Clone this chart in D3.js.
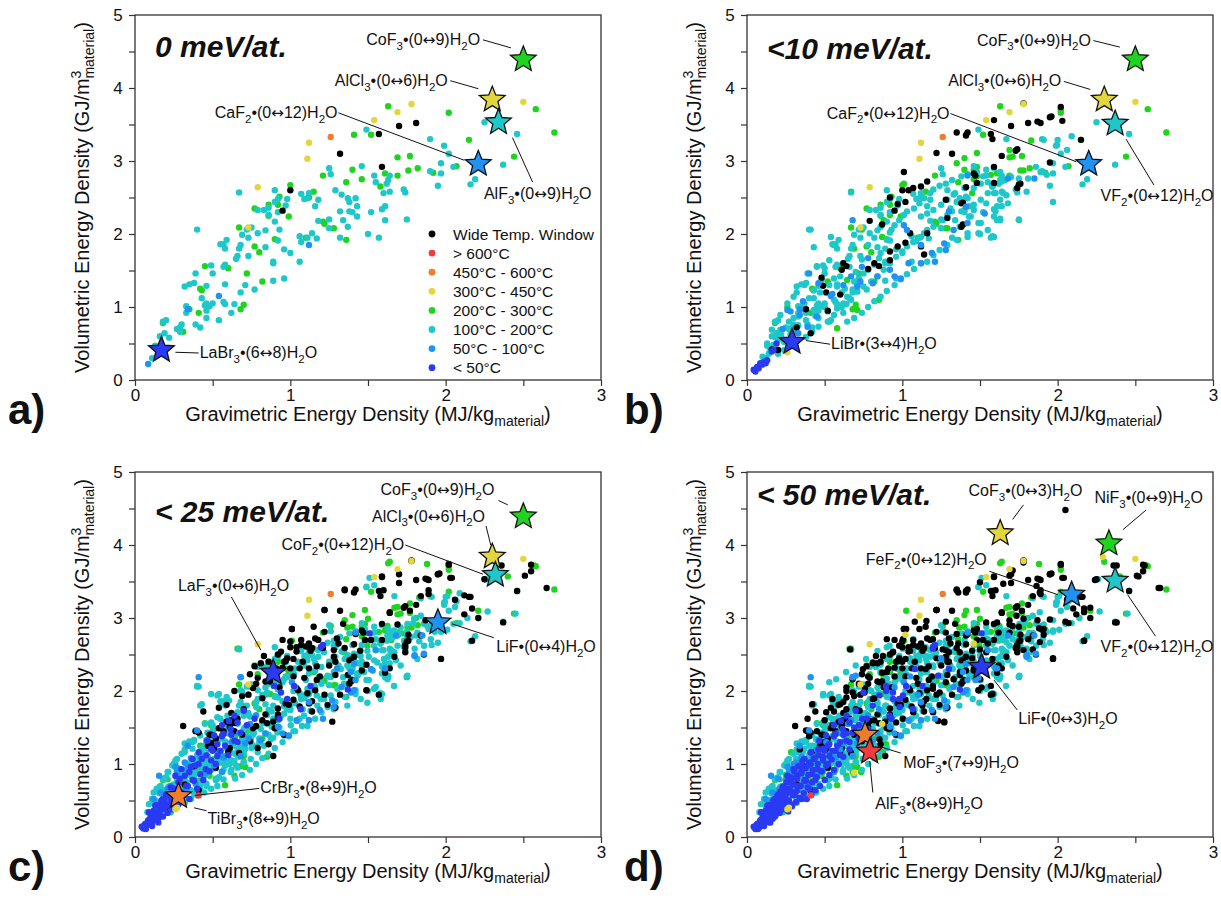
<!DOCTYPE html>
<html>
<head>
<meta charset="utf-8">
<script src="https://cdn.jsdelivr.net/npm/d3@7"></script>
<style>
  body { margin: 0; background: #fff; }
  text { font-family: "Liberation Sans", Arial, sans-serif; fill: #111; }
</style>
</head>
<body>
<svg id="chart" width="1221" height="905"></svg>
<script>
// legend categories (index is used by every data array below)
const categories = ["Wide Temp. Window", "> 600°C", "450°C - 600°C", "300°C - 450°C",
  "200°C - 300°C", "100°C - 200°C", "50°C - 100°C", "< 50°C"];
const catColors = ["#000000", "#f03c3c", "#ef7d2c", "#e2d63a", "#1fd41f", "#1ec7c9", "#1e93f3", "#2a3af4"];
const drawOrder = [4, 5, 0, 6, 7, 3, 2, 1];

const xTicks = [0, 0.5, 1, 1.5, 2, 2.5, 3];
const yTicks = [0, 0.5, 1, 1.5, 2, 2.5, 3, 3.5, 4, 4.5, 5];

// points stable at 0 meV/at. -- [black, red, orange, yellow, green, cyan, lightblue, blue], x,y pairs
const tier0 = [
  [1.81,3.52, 1.70,3.48, 1.57,3.37, 1.32,3.10, 1.59,2.92, 1.00,2.60, 0.95,2.32],
  [],
  [1.26,3.33],
  [2.50,3.81, 1.78,3.78, 1.69,3.67, 1.54,3.56, 1.12,3.25, 1.11,3.03, 0.79,2.64, 0.73,2.09],
  [2.58,3.71, 2.70,3.39, 2.15,3.29, 2.44,3.06, 2.02,3.66, 1.63,3.75, 1.52,3.36, 1.41,3.36, 1.69,3.05, 1.77,3.07,
   1.82,2.90, 1.76,2.87, 2.07,2.93, 1.92,2.84, 1.40,2.88, 1.21,2.80, 1.46,2.75, 1.61,2.83, 1.69,2.80, 1.58,2.65,
   1.36,2.71, 1.28,2.08, 1.21,2.17, 1.22,2.14, 1.36,1.92, 1.15,2.58, 1.12,2.50, 1.10,1.95, 1.00,2.67, 0.93,2.51,
   0.92,2.40, 0.99,2.24, 0.90,1.93, 0.77,2.35, 0.86,2.40, 0.86,2.25, 0.67,2.09, 0.77,1.83, 0.80,1.75, 0.60,1.53,
   0.45,1.56, 0.72,1.46, 0.82,1.35, 0.42,1.25, 0.43,1.23, 0.70,1.03, 0.68,0.97, 0.35,0.97, 0.41,0.92, 0.31,0.66, 0.18,0.78],
  [2.25,3.53, 2.46,3.37, 2.37,2.95, 1.49,3.43, 1.90,3.30, 1.99,3.21, 2.02,3.10, 1.97,2.97, 2.05,2.92, 1.90,2.86,
   1.97,2.83, 2.19,2.75, 2.16,2.68, 1.95,2.66, 1.46,2.93, 1.25,2.90, 1.26,2.82, 1.54,2.80, 1.64,2.80, 1.63,2.74,
   1.62,2.69, 1.55,2.71, 1.64,2.58, 1.60,2.56, 1.73,2.61, 1.74,2.57, 1.61,2.38, 1.59,2.34, 1.52,2.30, 1.61,2.19,
   1.75,2.20, 1.50,2.00, 1.57,1.95, 1.29,2.60, 1.33,2.54, 1.37,2.49, 1.42,2.49, 1.38,2.44, 1.43,2.38, 1.32,2.31,
   1.38,2.31, 1.40,2.30, 1.43,2.24, 1.34,2.19, 1.37,2.10, 1.25,2.20, 1.25,2.08, 1.18,2.18, 1.32,1.95, 1.18,2.47,
   1.16,2.38, 1.12,2.56, 1.07,2.55, 1.11,2.49, 1.09,2.48, 1.14,2.01, 1.17,1.94, 1.11,1.95, 1.06,1.97, 1.07,1.89,
   1.06,1.62, 0.90,2.60, 0.92,2.48, 0.98,2.48, 0.90,2.44, 0.97,2.39, 0.92,2.30, 0.90,2.17, 0.93,2.06, 0.92,1.91,
   0.96,1.79, 1.00,1.74, 0.89,1.60, 0.89,1.62, 0.96,1.39, 0.79,2.33, 0.83,2.33, 0.86,2.36, 0.86,2.26, 0.67,2.57,
   0.79,2.01, 0.84,2.05, 0.69,1.99, 0.75,2.09, 0.72,2.06, 0.73,1.95, 0.68,1.85, 0.67,1.80, 0.84,1.82, 0.73,1.70,
   0.66,1.70, 0.65,1.66, 0.59,1.92, 0.57,1.86, 0.55,1.86, 0.58,1.80, 0.58,1.58, 0.57,1.55, 0.49,1.57, 0.50,1.46,
   0.39,1.46, 0.40,2.06, 0.71,1.30, 0.77,1.24, 0.89,1.36, 0.68,1.20, 0.58,1.31, 0.32,1.28, 0.35,1.31, 0.38,1.33,
   0.46,1.29, 0.43,1.12, 0.46,1.05, 0.50,1.05, 0.45,1.02, 0.48,1.01, 0.57,1.07, 0.58,1.04, 0.64,1.04, 0.62,0.92,
   0.54,0.82, 0.46,0.95, 0.46,0.85, 0.33,1.01, 0.33,0.92, 0.39,0.76, 0.42,0.72, 0.30,0.76, 0.29,0.72, 0.27,0.70,
   0.29,0.66, 0.20,0.82, 0.18,0.80, 0.22,0.58, 0.19,0.64, 0.16,0.60, 0.13,0.47, 0.11,0.30],
  [1.12,1.85, 0.54,1.15, 0.34,0.97, 0.085,0.22],
  []
];

// extra points stable below 10 meV/at.
const tier10 = [
  [1.78,3.79, 2.02,3.74, 2.03,3.55, 1.95,3.60, 1.89,3.52, 1.59,3.56, 1.58,3.30, 1.41,3.35, 1.35,3.39, 2.15,3.29,
   1.95,2.98, 1.73,3.14, 1.64,3.07, 1.22,3.11, 1.48,2.70, 1.41,2.64, 1.75,2.68, 1.74,2.63, 1.28,2.47, 1.38,2.42,
   1.38,2.10, 1.29,2.22, 1.01,2.85, 1.04,2.60, 1.07,2.63, 1.12,2.65, 1.16,2.72, 1.02,2.44, 0.97,2.41, 0.92,2.50,
   0.79,2.18, 0.87,2.13, 1.02,1.88, 0.97,1.83, 0.92,1.76, 0.92,1.64, 0.78,1.52, 0.85,1.56, 0.82,1.60, 0.62,1.60,
   0.64,1.56, 0.61,1.51, 0.48,1.40, 0.49,1.29, 0.51,1.20, 0.60,1.17, 0.52,0.95, 0.38,0.97, 0.32,0.72, 0.41,0.64,
   0.20,0.41, 0.16,0.42, 1.14,1.72, 1.12,1.83, 1.16,2.01, 1.05,2.01, 1.46,2.83, 1.59,2.70, 1.96,3.61, 1.87,3.54,
   1.42,3.39, 1.74,3.16, 1.47,2.80, 1.39,2.43, 1.39,2.13, 1.76,2.69],
  [],
  [],
  [0.26,0.38],
  [0.67,2.58, 0.74,2.06, 0.87,1.96, 1.01,2.69, 1.35,2.97, 1.48,2.79, 1.29,2.08, 0.52,1.35, 0.645,1.37, 0.71,0.96,
   0.26,1.00, 0.85,1.10, 0.53,0.80, 0.58,0.71, 0.69,1.80, 0.88,2.19, 0.92,2.26, 1.48,2.92, 1.83,3.28, 1.78,2.87,
   1.71,3.06, 1.69,3.15, 1.46,2.88, 1.40,3.04, 1.57,2.81, 1.45,2.56, 1.75,2.19, 1.48,3.11, 2.02,3.70],
  [0.41,2.06, 0.43,1.82, 0.54,1.96, 0.56,1.85, 0.53,1.64, 0.50,1.53, 0.45,1.55, 0.56,1.39, 0.58,1.28, 0.61,1.20,
   0.645,1.14, 0.48,1.37, 0.43,1.23, 0.37,1.30, 0.32,1.20, 0.30,1.14, 0.37,1.05, 0.26,1.05, 0.215,0.89, 0.19,0.80,
   0.16,0.69, 0.18,0.59, 0.13,0.50, 0.15,0.41, 0.10,0.32, 0.215,0.69, 0.27,0.80, 0.33,0.87, 0.38,0.92, 0.43,0.96,
   0.46,1.03, 0.52,0.94, 0.58,0.98, 0.62,1.05, 0.66,1.12, 0.68,1.24, 0.69,1.35, 0.72,1.39, 0.75,1.46, 0.78,1.51,
   0.82,1.58, 0.85,1.67, 0.86,1.74, 0.89,1.80, 0.90,1.92, 0.92,2.02, 0.95,2.12, 0.98,2.19, 1.01,2.26, 1.03,2.31,
   1.075,2.35, 1.11,2.42, 1.14,2.49, 1.18,2.56, 1.20,2.61, 1.24,2.66, 1.28,2.69, 1.32,2.74, 1.38,2.79, 1.42,2.82,
   1.48,2.85, 1.54,2.88, 1.59,2.90, 1.63,2.85, 1.66,2.74, 1.505,2.69, 1.46,2.63, 1.41,2.51, 1.35,2.44, 1.31,2.35,
   1.29,2.26, 1.26,2.19, 1.20,2.10, 1.16,2.055, 1.12,1.96, 1.09,1.90, 1.03,1.83, 1.00,1.76, 0.96,1.69, 0.92,1.60,
   0.88,1.51, 0.84,1.42, 0.80,1.35, 0.75,1.28, 0.71,1.21, 0.67,1.10, 0.61,1.00, 0.56,0.89, 0.52,0.80, 0.46,0.73,
   0.42,0.66, 0.38,0.59, 0.32,0.53, 0.28,0.46, 0.24,0.41, 0.20,0.36, 1.40,2.33, 1.44,2.24, 1.505,2.15, 1.55,2.055,
   1.59,1.96, 1.49,2.01, 1.42,1.96, 1.35,1.92, 1.29,1.85, 1.24,1.78, 1.20,1.71, 1.16,1.62, 1.12,1.60, 1.075,1.52,
   1.03,1.45, 0.99,1.38, 0.95,1.30, 0.90,1.22, 0.86,1.14, 0.82,1.08, 0.78,1.00, 0.74,0.92, 0.69,0.85, 0.645,0.80,
   1.12,2.24, 1.16,2.28, 1.20,2.33, 1.25,2.40, 1.29,2.47, 1.34,2.56, 1.40,2.63, 1.52,2.79, 1.58,2.67, 1.55,2.56,
   1.505,2.47, 1.46,2.40, 1.60,2.31, 1.63,2.19, 1.67,2.53, 1.64,2.38, 1.67,3.30, 1.91,3.29, 2.00,3.29, 1.995,3.22,
   2.09,3.34, 2.06,3.15, 1.86,2.92, 1.89,2.85, 1.93,2.81, 1.81,2.76, 1.70,2.78, 1.64,2.72, 1.58,2.65, 1.59,2.56,
   1.65,2.56, 1.63,2.47, 1.54,2.42, 1.46,2.33, 1.49,2.15, 1.59,2.24, 1.63,2.21, 1.68,2.42, 1.80,2.58, 1.75,2.76,
   1.97,2.44, 1.58,1.97, 1.42,2.01, 0.12,0.30, 0.14,0.36, 0.17,0.48, 0.20,0.55, 0.22,0.62, 0.24,0.52, 0.25,0.72,
   0.28,0.62, 0.30,0.85, 0.33,0.75, 0.35,1.00, 0.38,0.82, 0.40,1.12, 0.44,0.88, 0.47,1.20, 0.50,1.00, 0.53,1.30,
   0.56,1.10, 0.60,1.42, 0.63,1.25, 0.66,1.55, 0.70,1.48, 0.74,1.65, 0.78,1.85, 0.82,1.95, 0.86,2.10],
  [0.68,2.19, 0.40,1.46, 0.46,1.325, 0.67,1.42, 0.71,1.28, 0.73,1.35, 0.81,1.325, 0.84,1.42, 1.01,2.12, 1.03,2.055,
   1.04,1.60, 1.12,1.60, 1.19,1.74, 1.21,1.62, 1.28,1.78, 1.30,2.31, 1.33,2.055, 1.41,2.375, 1.42,2.15, 1.27,1.87,
   0.95,1.42, 0.99,1.39, 0.92,1.51, 0.26,0.96, 0.28,0.94, 0.34,0.89, 0.39,0.73, 0.45,0.87, 0.78,1.67, 0.74,1.55,
   0.33,0.64, 1.42,2.80, 1.53,2.28, 1.68,2.76, 1.85,2.76, 0.23,0.70, 0.36,1.08, 0.55,1.18, 0.62,1.30],
  [0.043,0.14, 0.065,0.18, 0.086,0.23, 0.11,0.25, 0.13,0.27, 0.075,0.16, 0.16,0.39, 0.17,0.41, 0.19,0.50, 0.12,0.23,
   0.054,0.115, 0.097,0.21]
];

// extra points stable below 25 meV/at.
const tier25 = [
  [1.78,3.78, 2.02,3.73, 2.04,3.55, 1.95,3.60, 1.88,3.53, 1.70,3.60, 1.59,3.57, 1.60,3.38, 1.35,3.38, 2.25,3.53,
   2.36,3.72, 2.55,3.73, 2.55,3.64, 2.51,3.58, 2.46,3.37, 2.65,3.41, 2.37,2.94, 2.21,3.00, 2.17,3.13, 2.12,3.31,
   2.16,3.29, 2.06,3.25, 2.12,3.05, 2.17,2.69, 1.97,2.44, 1.89,3.38, 1.89,3.33, 1.84,3.30, 1.81,3.18, 1.77,3.10,
   1.87,2.97, 1.69,2.91, 1.64,3.08, 1.76,2.77, 1.84,2.76, 1.86,2.50, 1.74,2.60, 1.74,2.53, 1.67,2.47, 1.64,2.31,
   1.61,2.25, 1.57,1.95, 1.49,2.36, 1.46,2.28, 1.49,2.01, 1.41,2.47, 1.37,2.22, 1.40,2.15, 1.32,1.95, 1.29,1.77,
   1.27,1.58, 1.24,1.81, 1.22,1.95, 1.29,2.40, 1.28,2.56, 1.31,2.65, 1.35,2.59, 1.22,3.11, 1.22,2.81, 1.14,2.59,
   1.21,2.59, 1.18,2.70, 1.07,2.70, 1.10,2.61, 1.01,2.85, 1.00,2.68, 1.04,2.54, 0.94,2.54, 0.96,2.40, 1.00,2.31,
   1.06,2.31, 1.12,2.31, 1.17,2.34, 1.19,2.20, 1.09,2.18, 1.04,2.04, 1.11,1.97, 1.14,1.86, 1.06,1.79, 0.99,1.81,
   0.92,1.68, 0.89,1.58, 0.90,1.49, 0.96,1.40, 0.86,1.27, 0.79,1.22, 0.89,1.11, 0.84,1.68, 0.76,1.49, 0.69,1.40,
   0.74,1.31, 0.64,1.45, 0.59,1.58, 0.54,1.49, 0.49,1.40, 0.41,1.43, 0.39,1.45, 0.61,1.22, 0.67,1.15, 0.51,1.22,
   0.74,2.23, 0.77,2.34, 0.81,2.38, 0.86,2.40, 0.91,2.31, 0.84,2.13, 0.76,2.04, 0.69,1.93, 0.64,2.00, 0.54,1.77,
   0.44,1.72, 0.31,1.52, 0.59,1.81, 0.70,1.75, 0.73,1.95, 0.78,2.10, 0.82,1.90, 0.87,2.25, 0.93,2.05, 0.98,2.45,
   1.02,2.20, 1.08,2.40, 1.13,2.55, 1.17,2.15, 1.25,2.35, 1.30,2.72, 1.45,2.55, 1.52,2.70, 0.66,1.62, 0.57,1.45,
   0.62,1.70, 0.52,1.35, 0.47,1.25, 0.83,2.48, 0.95,2.70, 1.15,2.88, 1.34,2.92, 1.42,2.78],
  [0.41,0.57],
  [],
  [0.27,0.40],
  [0.66,2.58, 1.26,2.89, 1.367,2.87, 1.50,2.99, 1.625,2.89, 1.69,2.76, 1.754,2.87, 0.49,1.53, 0.445,1.25, 0.55,1.02,
   0.64,0.84, 0.51,1.07, 0.25,1.00, 0.21,0.79, 0.917,2.46, 0.98,2.30, 1.153,2.26, 1.28,2.44, 1.346,2.53, 1.496,2.62,
   0.79,2.23, 0.70,1.11, 0.48,0.84, 0.41,0.77, 1.64,3.77, 1.88,3.74, 1.77,3.20, 1.67,3.14, 2.21,3.10, 2.02,3.36,
   2.40,3.57, 2.57,3.72, 1.72,2.79, 1.65,2.70, 1.81,3.00],
  [0.40,2.07, 0.42,1.80, 0.49,1.96, 0.53,1.94, 0.605,1.87, 0.68,2.01, 0.70,1.66, 0.65,1.62, 0.595,1.66, 0.55,1.62,
   0.51,1.48, 0.466,1.43, 0.42,1.39, 0.38,1.32, 0.37,1.21, 0.32,1.16, 0.27,1.07, 0.24,0.98, 0.21,0.89, 0.19,0.79,
   0.165,0.70, 0.14,0.66, 0.12,0.61, 0.11,0.52, 0.09,0.45, 0.08,0.34, 0.155,0.61, 0.20,0.61, 0.23,0.66, 0.27,0.70,
   0.32,0.79, 0.36,0.84, 0.40,0.89, 0.445,0.93, 0.49,1.00, 0.53,1.07, 0.57,1.11, 0.616,1.16, 0.66,1.21, 0.70,1.25,
   0.745,1.34, 0.766,1.43, 0.81,1.48, 0.85,1.55, 0.895,1.62, 0.94,1.66, 0.98,1.75, 1.024,1.84, 1.067,1.94, 1.11,2.03,
   1.153,2.07, 1.196,2.14, 1.239,2.21, 1.28,2.26, 1.325,2.30, 1.367,2.35, 1.41,2.42, 1.453,2.48, 1.496,2.55, 1.539,2.62,
   1.582,2.69, 1.625,2.76, 1.668,2.83, 1.71,2.87, 1.754,2.92, 1.797,2.99, 1.84,3.03, 0.917,1.43, 0.874,1.34, 0.83,1.25,
   0.79,1.16, 0.745,1.07, 0.70,1.02, 0.66,0.95, 0.616,0.89, 0.57,0.79, 0.53,0.70, 0.49,0.66, 0.445,0.61, 0.40,0.57,
   0.36,0.52, 0.32,0.47, 0.27,0.41, 0.23,0.34, 1.003,1.53, 1.046,1.59, 1.088,1.66, 1.13,1.73, 1.174,1.80, 1.217,1.89,
   1.26,1.94, 1.303,2.03, 1.346,2.10, 1.389,2.16, 1.432,2.21, 1.475,2.26, 1.518,2.30, 1.56,2.39, 1.603,2.44, 1.646,2.53,
   1.69,2.62, 1.732,2.69, 1.775,2.74, 1.818,2.80, 1.882,2.89, 1.196,1.89, 1.28,1.75, 1.367,1.80, 1.453,1.89, 1.539,2.03,
   1.625,2.16, 1.71,2.35, 1.11,1.52, 1.02,1.45, 1.28,2.62, 1.217,2.53, 1.153,2.44, 1.088,2.35, 1.024,2.23, 0.96,2.16,
   0.895,2.07, 0.85,1.98, 0.79,1.89, 0.72,1.80, 0.66,1.71, 1.496,1.84, 1.582,1.89, 1.668,2.07, 1.754,2.21, 1.818,2.44,
   1.861,2.62, 1.904,2.71, 2.26,3.53, 2.45,3.06, 2.27,3.09, 2.01,3.30, 2.07,3.23, 1.99,3.18, 1.84,3.27, 1.91,2.91,
   1.79,2.93, 1.51,3.55, 1.54,3.45, 1.49,3.42, 1.75,2.81, 1.83,2.68, 1.91,2.63, 1.97,2.81, 2.01,2.84, 2.09,2.93, 2.14,3.00,
   0.12,0.28, 0.15,0.36, 0.17,0.46, 0.19,0.55, 0.22,0.50, 0.24,0.62, 0.26,0.55, 0.27,0.78, 0.29,0.62, 0.31,0.90,
   0.33,0.72, 0.35,0.98, 0.36,0.64, 0.38,0.86, 0.40,1.05, 0.41,0.72, 0.43,1.18, 0.44,0.85, 0.46,0.70, 0.47,1.10,
   0.49,0.92, 0.50,1.25, 0.52,0.78, 0.54,1.02, 0.55,1.35, 0.57,0.92, 0.59,1.22, 0.60,1.48, 0.62,1.05, 0.63,1.36,
   0.65,0.98, 0.66,1.56, 0.68,1.28, 0.70,1.15, 0.71,1.50, 0.73,1.68, 0.75,1.22, 0.76,1.40, 0.78,1.78, 0.80,1.30,
   0.82,1.56, 0.84,1.95, 0.86,1.40, 0.88,1.72, 0.91,2.10, 0.93,1.50, 0.95,1.86, 0.97,2.20, 1.00,1.62, 1.02,2.00,
   1.05,2.40, 1.08,1.75, 1.10,2.15],
  [0.41,2.19, 0.68,2.19, 1.39,1.98, 1.41,2.01, 1.52,2.30, 1.80,2.48, 1.86,2.51, 0.68,1.11, 0.57,1.09, 0.42,1.11,
   0.32,1.02, 0.21,0.66, 0.165,0.61, 0.12,0.52, 0.155,0.84, 0.27,0.89, 0.34,1.25, 0.51,0.98, 0.56,0.89, 1.61,2.31,
   1.80,2.49, 1.39,2.26, 1.55,2.56],
  [0.058,0.155, 0.08,0.20, 0.10,0.25, 0.12,0.29, 0.09,0.34, 0.14,0.34, 0.18,0.38, 0.21,0.43, 0.19,0.47, 0.13,0.43,
   0.11,0.20, 0.07,0.11, 0.155,0.27, 0.23,0.52, 0.25,0.59, 0.30,0.61, 0.34,0.70, 0.38,0.77, 0.42,0.86, 0.455,0.93,
   0.49,1.05, 0.53,1.11, 0.55,1.18, 0.58,1.25, 0.64,1.32, 0.68,1.43, 0.72,1.53, 0.77,1.62, 0.53,1.27, 0.49,1.21,
   0.43,1.07, 0.39,0.98, 0.35,0.89, 0.32,0.84, 0.28,0.75, 0.616,1.48, 0.66,1.57, 0.57,1.41, 0.70,1.73, 0.64,1.66,
   1.196,2.60, 0.895,2.07, 0.94,1.98, 1.024,2.07, 1.13,2.07, 1.067,1.75, 0.98,1.89, 0.466,1.32, 0.51,1.39, 0.56,1.53,
   0.605,1.59, 0.41,1.16, 0.37,1.07, 0.25,0.66, 0.21,0.57, 0.18,0.52, 0.26,0.84, 0.30,0.93, 1.21,2.63, 1.51,2.79,
   1.37,2.02, 0.93,1.62, 0.09,0.19, 0.10,0.27, 0.11,0.15, 0.12,0.36, 0.13,0.24, 0.14,0.44, 0.15,0.20, 0.16,0.32,
   0.17,0.50, 0.18,0.28, 0.19,0.40, 0.20,0.58, 0.21,0.33, 0.22,0.45, 0.23,0.68, 0.24,0.38, 0.25,0.52, 0.27,0.62,
   0.28,0.45, 0.29,0.80, 0.31,0.58, 0.33,0.70, 0.35,0.52, 0.36,0.96, 0.37,0.78, 0.40,0.66, 0.41,1.00, 0.44,0.78,
   0.46,1.12, 0.48,0.90, 0.50,1.18, 0.52,1.00, 0.56,1.38, 0.60,1.12, 0.62,1.40, 0.66,1.30]
];

// extra points stable below 50 meV/at.
const tier50 = [
  [0.664,2.57, 0.42,1.82, 0.51,1.71, 0.38,1.46, 0.39,1.62, 0.55,1.89, 0.64,2.05, 0.68,2.16, 0.746,2.30, 0.757,1.98,
   0.81,1.89, 0.853,2.12, 0.90,2.26, 0.79,1.59, 0.725,1.73, 0.64,1.75, 0.60,1.82, 0.70,1.48, 0.735,1.32, 0.853,1.34,
   0.918,1.48, 0.96,1.57, 1.004,1.62, 1.07,1.71, 1.13,1.80, 1.155,1.89, 1.197,1.71, 1.23,1.59, 1.27,1.57, 1.24,1.98,
   1.197,2.03, 1.28,2.12, 1.33,2.16, 1.37,2.26, 1.41,2.28, 1.46,2.30, 1.50,2.16, 1.51,2.05, 1.57,2.07, 1.58,1.96,
   1.62,2.35, 1.58,2.44, 1.54,2.53, 1.50,2.57, 1.37,2.53, 1.30,2.53, 1.26,2.57, 1.197,2.71, 1.11,2.85, 1.025,2.85,
   1.004,2.71, 0.94,2.53, 0.875,2.48, 0.81,2.39, 1.155,2.96, 1.22,3.11, 1.28,2.80, 1.35,2.78, 1.41,2.76, 1.48,2.85,
   1.54,2.94, 1.61,2.94, 1.69,2.80, 1.71,2.89, 1.735,3.03, 1.78,2.99, 1.81,2.71, 1.84,2.57, 1.885,2.67, 1.91,2.85,
   1.864,3.44, 1.885,3.35, 1.78,3.76, 1.71,3.65, 1.69,3.58, 1.65,3.47, 1.58,3.37, 1.41,3.37, 1.36,3.35, 1.50,3.49,
   1.197,2.07, 0.90,2.71, 0.64,1.91, 0.55,1.53, 0.488,1.30, 0.42,1.16, 2.05,4.48, 2.17,2.69, 2.38,2.94, 1.97,2.45,
   2.21,3.14, 2.05,2.95, 2.07,2.93, 2.10,3.13, 2.52,3.57, 2.56,3.72, 2.66,3.41, 2.24,3.52, 2.38,3.72, 2.17,3.08,
   1.69,2.97, 1.75,2.88, 1.90,2.84, 1.91,2.77, 1.73,2.59, 1.78,2.56, 1.88,2.86, 0.45,1.45, 0.50,1.60, 0.56,1.72,
   0.62,1.85, 0.68,1.98, 0.72,2.10, 0.78,2.20, 0.84,2.38, 0.88,2.05, 0.95,2.20, 1.00,2.40, 1.05,2.55, 1.10,2.10,
   1.15,2.30, 1.22,2.45, 1.30,2.40, 1.36,2.65, 1.45,2.45, 1.55,2.65, 0.34,1.20, 0.40,1.38, 0.98,2.62, 1.08,2.95,
   1.28,2.95, 1.62,2.80],
  [],
  [],
  [2.29,3.84, 1.02,2.77, 1.46,2.65, 0.87,1.55, 0.69,0.88],
  [1.025,3.10, 1.41,3.10, 0.488,0.89, 0.53,0.98, 0.284,1.16, 0.638,1.09, 0.68,0.89, 0.735,0.89, 0.875,1.16, 0.896,1.27,
   1.155,2.00, 0.918,2.48, 1.46,2.19, 1.76,2.60, 0.25,0.85, 2.30,3.77],
  [0.40,2.07, 0.49,1.94, 0.53,2.12, 0.574,2.16, 0.638,2.26, 0.70,2.35, 0.767,2.44, 0.84,2.55, 0.918,2.62, 1.004,2.58,
   1.07,2.71, 1.11,2.62, 1.155,2.48, 1.24,2.39, 1.305,2.35, 1.37,2.39, 1.43,2.44, 1.50,2.48, 1.54,2.71, 1.61,2.76,
   1.67,2.67, 1.71,2.71, 1.76,2.62, 1.82,2.53, 1.84,2.80, 1.885,3.08, 0.638,1.25, 0.68,1.34, 0.725,1.43, 0.767,1.53,
   0.81,1.62, 0.853,1.71, 0.896,1.80, 0.94,1.75, 0.983,1.84, 1.025,1.98, 1.07,2.07, 1.11,2.16, 1.155,2.26, 1.197,2.35,
   0.553,1.39, 0.51,1.21, 0.466,1.16, 0.42,1.07, 0.38,0.98, 0.338,0.89, 0.295,0.80, 0.25,0.70, 0.21,0.61, 0.166,0.52,
   0.12,0.43, 0.10,0.34, 0.273,0.93, 0.316,1.07, 0.359,1.16, 0.402,1.25, 0.445,1.34, 0.488,1.43, 0.53,1.53, 0.574,1.62,
   0.10,0.22, 0.13,0.30, 0.16,0.40, 0.18,0.35, 0.20,0.50, 0.23,0.45, 0.25,0.65, 0.27,0.58, 0.30,0.80, 0.32,0.70,
   0.35,0.95, 0.37,0.85, 0.40,1.10, 0.42,0.98, 0.45,1.25, 0.47,1.05, 0.50,1.40, 0.52,1.18, 0.55,1.55, 0.58,1.30,
   0.60,1.62, 0.63,1.45, 0.66,1.75, 0.70,1.60, 0.73,1.85, 0.76,1.70, 0.80,2.00, 0.84,1.85, 0.88,2.15, 0.92,2.00,
   0.97,2.30, 1.00,2.15, 1.05,2.45, 1.10,2.30, 1.15,2.60, 1.20,2.48, 1.30,2.65, 1.40,2.70, 0.56,0.92, 0.62,1.02,
   0.68,1.12, 0.74,1.22, 0.80,1.35, 0.86,1.45, 0.92,1.58, 0.98,1.70, 1.04,1.80],
  [0.70,2.21, 1.10,1.95, 0.30,1.00, 0.25,0.78, 0.40,0.95, 0.55,1.10, 0.60,1.20, 0.15,0.50, 0.20,0.60, 1.47,2.15,
   1.80,2.47, 1.60,2.31, 1.49,2.18, 0.85,1.75, 0.65,1.55, 0.45,1.20, 0.35,1.10, 0.20,0.80, 0.28,0.65, 1.05,2.20,
   1.25,2.45, 0.95,2.05, 0.12,0.30, 0.17,0.42, 0.22,0.58, 0.26,0.70, 0.31,0.84, 0.36,0.72, 0.39,0.96, 0.43,0.86,
   0.47,1.14, 0.51,1.30, 0.54,1.12, 0.58,1.42, 0.62,1.28, 0.67,1.60, 0.72,1.50],
  [0.055,0.11, 0.065,0.15, 0.075,0.12, 0.08,0.19, 0.09,0.15, 0.095,0.23, 0.105,0.18, 0.11,0.28, 0.115,0.22, 0.125,0.33,
   0.13,0.26, 0.14,0.38, 0.145,0.20, 0.15,0.31, 0.155,0.44, 0.165,0.25, 0.17,0.36, 0.175,0.50, 0.185,0.30, 0.19,0.42,
   0.195,0.56, 0.205,0.34, 0.21,0.48, 0.215,0.62, 0.225,0.39, 0.23,0.53, 0.235,0.69, 0.245,0.44, 0.25,0.60, 0.255,0.75,
   0.265,0.35, 0.27,0.50, 0.275,0.66, 0.28,0.82, 0.29,0.42, 0.295,0.57, 0.30,0.72, 0.305,0.90, 0.315,0.48, 0.32,0.63,
   0.325,0.80, 0.33,0.97, 0.34,0.54, 0.345,0.70, 0.35,0.87, 0.355,1.04, 0.365,0.60, 0.37,0.77, 0.375,0.94, 0.385,0.52,
   0.39,0.68, 0.395,0.85, 0.40,1.02, 0.41,1.16, 0.415,0.58, 0.42,0.75, 0.425,0.92, 0.435,1.08, 0.44,0.64, 0.45,0.82,
   0.455,1.00, 0.46,1.20, 0.47,0.70, 0.48,0.90, 0.49,1.10, 0.50,0.78, 0.51,0.98, 0.52,1.25, 0.53,0.85, 0.545,1.06,
   0.56,0.92, 0.57,1.18, 0.59,1.00, 0.60,1.30, 0.62,1.10, 0.64,1.42, 0.66,1.20, 0.69,1.50, 0.72,1.35, 0.74,1.62,
   0.78,1.48, 0.81,1.80, 0.853,1.94, 0.896,2.00, 0.94,1.89, 0.983,1.78, 1.004,1.94, 0.918,1.66, 1.197,2.58, 1.23,2.21,
   0.75,1.98, 1.08,2.30, 1.30,2.30]
];

const panelTiers = [[tier0], [tier0, tier10], [tier0, tier10, tier25], [tier0, tier10, tier25, tier50]];
const panelTitles = ["0 meV/at.", "<10 meV/at.", "< 25 meV/at.", "< 50 meV/at."];
const panelTitleY = [4.56, 4.54, 4.45, 4.68];
const panelLetters = ["a)", "b)", "c)", "d)"];

// highlighted compounds: [x, y, category]
const starsA = [[2.50,4.39,4], [2.30,3.84,3], [2.34,3.53,5], [2.21,2.96,6], [0.17,0.41,7]];
const starsB = [[2.50,4.39,4], [2.30,3.84,3], [2.37,3.51,5], [2.20,2.96,6], [0.29,0.52,7]];
const starsC = [[2.50,4.39,4], [2.30,3.84,3], [2.32,3.59,5], [1.95,2.94,6], [0.89,2.25,7], [0.28,0.56,2]];
const starsD = [[1.63,4.16,3], [2.33,4.02,4], [2.09,3.32,6], [2.37,3.51,5], [1.51,2.33,7], [0.76,1.40,2], [0.79,1.17,1]];

// annotations: [label, textX, textY, anchor, lineX1, lineY1, lineX2, lineY2]
const notesA = [
  ["CoF_3•(0↔9)H_2O", 2.228, 4.66, "end", 2.24, 4.66, 2.42, 4.55],
  ["AlCl_3•(0↔6)H_2O", 2.02, 4.10, "end", 2.03, 4.10, 2.21, 3.99],
  ["CaF_2•(0↔12)H_2O", 1.31, 3.66, "end", 1.31, 3.66, 2.12, 3.01],
  ["AlF_3•(0↔9)H_2O", 2.24, 2.55, "start", 2.43, 3.32, 2.56, 2.71],
  ["LaBr_3•(6↔8)H_2O", 0.41, 0.37, "start", 0.26, 0.38, 0.41, 0.37]
];
const notesB = [
  ["CoF_3•(0↔9)H_2O", 2.22, 4.65, "end", 2.23, 4.65, 2.40, 4.56],
  ["AlCl_3•(0↔6)H_2O", 2.03, 4.09, "end", 2.04, 4.09, 2.21, 3.98],
  ["CaF_2•(0↔12)H_2O", 1.31, 3.65, "end", 1.31, 3.65, 2.12, 2.99],
  ["VF_2•(0↔12)H_2O", 2.27, 2.52, "start", 2.44, 3.30, 2.62, 2.67],
  ["LiBr•(3↔4)H_2O", 0.535, 0.49, "start", 0.38, 0.54, 0.535, 0.49]
];
const notesC = [
  ["CoF_3•(0↔9)H_2O", 2.32, 4.75, "end", 2.34, 4.61, 2.40, 4.55],
  ["AlCl_3•(0↔6)H_2O", 2.26, 4.39, "end", 2.26, 4.26, 2.29, 4.00],
  ["CoF_2•(0↔12)H_2O", 1.74, 4.00, "end", 1.74, 4.00, 2.24, 3.60],
  ["LaF_3•(0↔6)H_2O", 0.27, 3.44, "start", 0.62, 3.29, 0.81, 2.56],
  ["LiF•(0↔4)H_2O", 2.32, 2.60, "start", 2.04, 2.92, 2.31, 2.73],
  ["CrBr_3•(8↔9)H_2O", 0.80, 0.665, "start", 0.385, 0.57, 0.80, 0.665],
  ["TiBr_3•(8↔9)H_2O", 0.46, 0.24, "start", 0.38, 0.40, 0.46, 0.36]
];
const notesD = [
  ["CoF_3•(0↔3)H_2O", 1.42, 4.74, "start", 1.78, 4.55, 1.71, 4.35],
  ["NiF_3•(0↔9)H_2O", 2.23, 4.64, "start", 2.57, 4.48, 2.42, 4.21],
  ["FeF_2•(0↔12)H_2O", 1.55, 3.80, "end", 1.56, 3.64, 2.00, 3.32],
  ["VF_2•(0↔12)H_2O", 2.27, 2.60, "start", 2.45, 3.32, 2.63, 2.75],
  ["LiF•(0↔3)H_2O", 1.74, 1.61, "start", 1.59, 2.15, 1.74, 1.74],
  ["MoF_3•(7↔9)H_2O", 1.00, 1.01, "start", 0.85, 1.24, 0.99, 1.15],
  ["AlF_3•(8↔9)H_2O", 0.82, 0.45, "start", 0.79, 1.04, 0.81, 0.61]
];

const panelStars = [starsA, starsB, starsC, starsD];
const panelNotes = [notesA, notesB, notesC, notesD];
const panelBoxes = [
  { left: 135, top: 15 }, { left: 747, top: 15 },
  { left: 135, top: 472 }, { left: 747, top: 472 }
];
const letterX = [8, 624, 8, 624];

const plotW = 466, plotH = 365;
const svg = d3.select("#chart");

// write "_3" style subscripts as tspans, arrow in a font that draws it wide
function richText(sel, str, size) {
  let shifted = false;
  str.split(/_(\d+)/).forEach((p, i) => {
    if (!p) return;
    if (i % 2 === 1) {
      sel.append("tspan").attr("dy", size * 0.3).attr("font-size", size * 0.72).text(p);
      shifted = true;
      return;
    }
    p.split(/(↔)/).forEach(q => {
      if (!q) return;
      const t = sel.append("tspan").text(q);
      if (q === "↔") t.attr("font-family", '"DejaVu Sans", sans-serif').attr("font-size", size * 0.95);
      if (shifted) { t.attr("dy", -size * 0.3); shifted = false; }
    });
  });
}

function starPath(R) {
  const r = R * 0.44;
  const pts = d3.range(10).map(i => {
    const a = -Math.PI / 2 + i * Math.PI / 5;
    const rad = i % 2 === 0 ? R : r;
    return [rad * Math.cos(a), rad * Math.sin(a)];
  });
  return "M" + pts.map(p => p.join(",")).join("L") + "Z";
}

panelBoxes.forEach((box, pi) => {
  const x = d3.scaleLinear().domain([0, 3]).range([box.left, box.left + plotW]);
  const y = d3.scaleLinear().domain([0, 5]).range([box.top + plotH, box.top]);
  const g = svg.append("g");

  // axes
  const xAxis = d3.axisBottom(x).tickValues(xTicks).tickSize(6)
    .tickFormat(d => Number.isInteger(d) ? d : "");
  const yAxis = d3.axisLeft(y).tickValues(yTicks).tickSize(6)
    .tickFormat(d => Number.isInteger(d) ? d : "");

  const gx = g.append("g").attr("transform", `translate(0,${box.top + plotH})`).call(xAxis);
  const gy = g.append("g").attr("transform", `translate(${box.left},0)`).call(yAxis);
  [gx, gy].forEach(a => {
    a.select(".domain").remove();
    a.selectAll(".tick line").attr("stroke", "#333").attr("stroke-width", 1.2);
    a.selectAll(".tick text").attr("font-size", 17).attr("fill", "#111")
      .attr("font-family", '"Liberation Sans", Arial, sans-serif');
  });
  gy.selectAll(".tick text").attr("dx", "-0.2em");

  g.append("rect")
    .attr("x", box.left).attr("y", box.top)
    .attr("width", plotW).attr("height", plotH)
    .attr("fill", "none").attr("stroke", "#333").attr("stroke-width", 1.3);

  // points
  const pts = [];
  drawOrder.forEach(c => {
    panelTiers[pi].forEach(tier => {
      const arr = tier[c];
      for (let i = 0; i < arr.length; i += 2) pts.push({ x: arr[i], y: arr[i + 1], c });
    });
  });
  g.append("g").selectAll("circle").data(pts).join("circle")
    .attr("cx", d => x(d.x)).attr("cy", d => y(d.y)).attr("r", 3.2)
    .attr("fill", d => catColors[d.c]);

  // leader lines + labels
  const notes = panelNotes[pi];
  g.append("g").selectAll("line").data(notes).join("line")
    .attr("x1", d => x(d[4])).attr("y1", d => y(d[5]))
    .attr("x2", d => x(d[6])).attr("y2", d => y(d[7]))
    .attr("stroke", "#111").attr("stroke-width", 1);
  notes.forEach(d => {
    const t = g.append("text")
      .attr("x", x(d[1]) + (d[3] === "end" ? -1 : 1))
      .attr("y", y(d[2]) + 5)
      .attr("text-anchor", d[3])
      .attr("font-size", 16);
    richText(t, d[0], 16);
  });

  // stars
  g.append("g").selectAll("path").data(panelStars[pi]).join("path")
    .attr("d", starPath(13.5))
    .attr("transform", d => `translate(${x(d[0])},${y(d[1])})`)
    .attr("fill", d => catColors[d[2]])
    .attr("stroke", "#111").attr("stroke-width", 1.3);

  // panel title
  g.append("text")
    .attr("x", box.left + (pi === 3 ? 10 : 20))
    .attr("y", y(panelTitleY[pi]) + 10)
    .attr("font-size", 30).attr("font-weight", "bold").attr("font-style", "italic")
    .text(panelTitles[pi]);

  // axis titles
  const xt = g.append("text")
    .attr("x", box.left + plotW / 2).attr("y", box.top + plotH + 41)
    .attr("text-anchor", "middle").attr("font-size", 20);
  xt.append("tspan").text("Gravimetric Energy Density (MJ/kg");
  xt.append("tspan").attr("dy", 5).attr("font-size", 14).text("material");
  xt.append("tspan").attr("dy", -5).text(")");

  const yt = g.append("text")
    .attr("transform", `translate(${box.left - 46},${box.top + plotH / 2}) rotate(-90)`)
    .attr("text-anchor", "middle").attr("font-size", 20);
  yt.append("tspan").text("Volumetric Energy Density (GJ/m");
  yt.append("tspan").attr("dy", -8).attr("font-size", 14).text("3");
  yt.append("tspan").attr("dx", -8).attr("dy", 13).attr("font-size", 14).text("material");
  yt.append("tspan").attr("dy", -5).text(")");

  // panel letter
  g.append("text")
    .attr("x", letterX[pi]).attr("y", box.top + plotH + 44)
    .attr("font-family", '"Open Sans", sans-serif')
    .attr("font-size", 42).attr("font-weight", "bold")
    .text(panelLetters[pi]);

  // legend (panel a only)
  if (pi === 0) {
    const lg = g.append("g");
    categories.forEach((name, i) => {
      const cy = 234 + i * 19.1;
      lg.append("circle").attr("cx", 432).attr("cy", cy).attr("r", 3.4).attr("fill", catColors[i]);
      lg.append("text").attr("x", 453).attr("y", cy + 5.5).attr("font-size", 15.5).text(name);
    });
  }
});
</script>
</body>
</html>
